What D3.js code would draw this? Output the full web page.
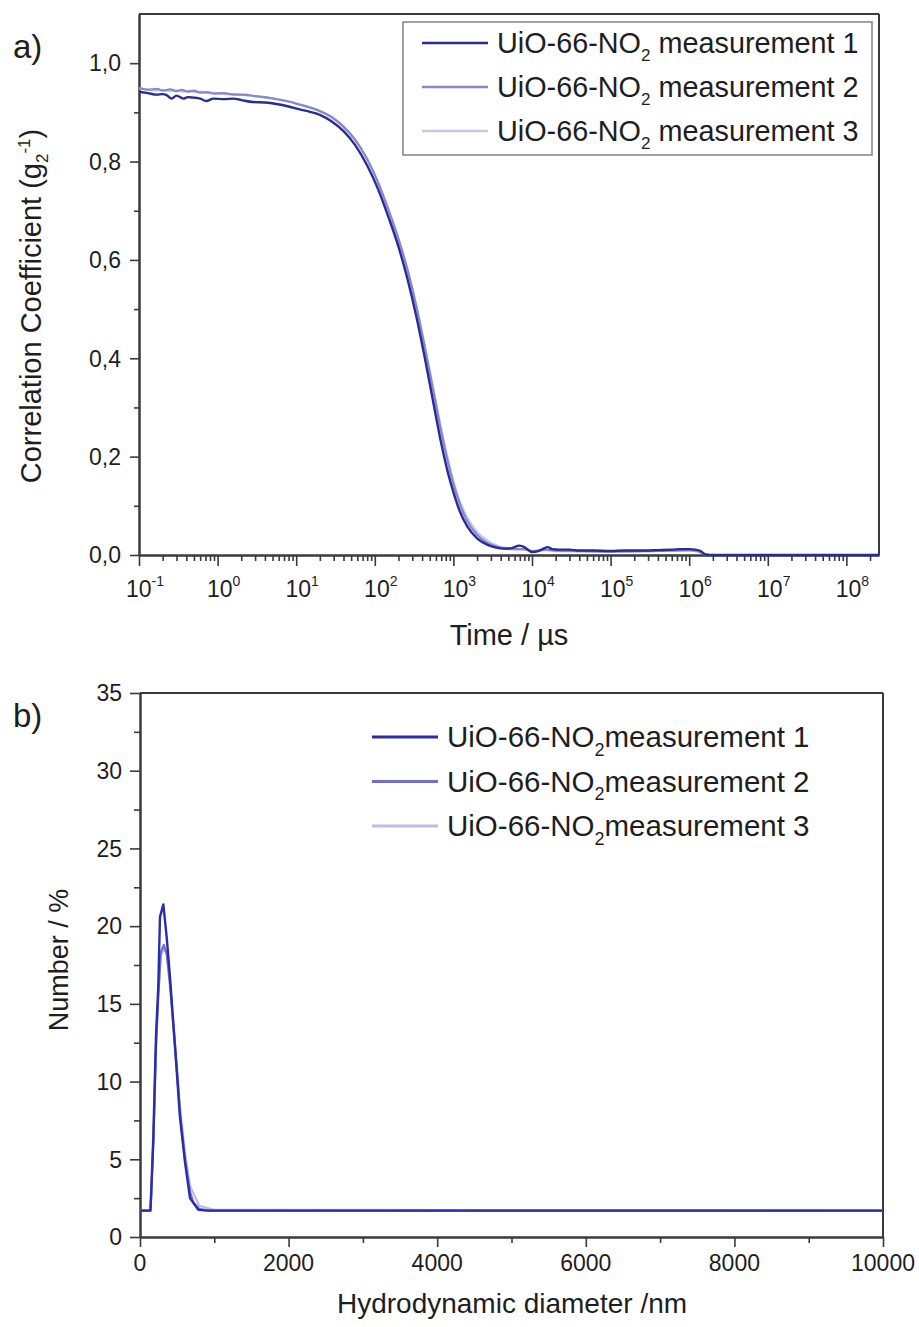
<!DOCTYPE html>
<html>
<head>
<meta charset="utf-8">
<script src="https://cdn.jsdelivr.net/npm/d3@7"></script>
<style>
  html, body { margin: 0; padding: 0; background: #fff; }
  svg { display: block; font-family: "Liberation Sans", Arial, sans-serif; }
</style>
</head>
<body>
<svg id="fig" width="919" height="1327"></svg>
<script>
// ---------- a) correlation function, [time / µs, g2-1] ----------
const corrMeas1 = [
  [0.1,0.942],[0.13,0.939],[0.168,0.936],[0.2,0.937],[0.225,0.935],[0.26,0.928],[0.3,0.934],
  [0.366,0.928],[0.42,0.931],[0.49,0.930],[0.6,0.928],[0.72,0.923],[0.88,0.928],[1.2,0.927],
  [1.58,0.928],[2.0,0.925],[2.83,0.921],[4,0.920],[5.6,0.917],[8,0.912],[11.1,0.906],[15,0.901],
  [20,0.895],[28,0.882],[40,0.862],[56,0.834],[80,0.792],[110,0.744],[150,0.686],[200,0.627],
  [260,0.562],[340,0.483],[440,0.395],[560,0.307],[700,0.227],[850,0.168],[1000,0.128],
  [1200,0.090],[1500,0.058],[2000,0.034],[2600,0.022],[3500,0.015],[4500,0.013],[5500,0.014],
  [6900,0.019],[8000,0.016],[9000,0.010],[10000,0.006],[12000,0.008],[14000,0.013],[15800,0.016],
  [18000,0.012],[22000,0.011],[30000,0.011],[40000,0.009],[60000,0.009],[1e5,0.008],[1.5e5,0.009],
  [2.5e5,0.009],[4e5,0.010],[6e5,0.011],[8e5,0.012],[1.0e6,0.012],[1.2e6,0.011],[1.4e6,0.008],
  [1.6e6,0.001],[1.8e6,0],[2.6e8,0]
];
const corrMeas2 = [
  [0.1,0.950],[0.13,0.946],[0.17,0.948],[0.2,0.944],[0.25,0.947],[0.3,0.943],[0.35,0.946],
  [0.42,0.942],[0.5,0.944],[0.6,0.940],[0.75,0.941],[0.9,0.938],[1.2,0.939],[1.6,0.936],
  [2.2,0.936],[3,0.933],[4,0.931],[5.6,0.927],[8,0.922],[11,0.916],[15,0.910],
  [20,0.903],[28,0.891],[40,0.871],[56,0.845],[80,0.805],[110,0.758],[150,0.701],[200,0.643],
  [260,0.581],[340,0.504],[440,0.417],[560,0.331],[700,0.251],[850,0.189],[1000,0.145],
  [1200,0.105],[1500,0.069],[2000,0.041],[2600,0.026],[3500,0.017],[4500,0.013],[6000,0.012],
  [8000,0.012],[10000,0.008],[15000,0.011],[20000,0.009],[50000,0.008],[1e5,0.007],[3e5,0.008],
  [6e5,0.009],[1e6,0.010],[1.3e6,0.008],[1.6e6,0.001],[1.8e6,0],[2.6e8,0]
];
const corrMeas3 = [
  [0.1,0.948],[0.13,0.947],[0.16,0.944],[0.2,0.946],[0.24,0.943],[0.3,0.945],[0.36,0.942],
  [0.44,0.944],[0.52,0.941],[0.62,0.942],[0.75,0.939],[0.9,0.940],[1.2,0.937],[1.6,0.937],
  [2.2,0.935],[3,0.933],[4,0.930],[5.6,0.927],[8,0.922],[11,0.916],[15,0.910],
  [20,0.902],[28,0.890],[40,0.870],[56,0.844],[80,0.804],[110,0.757],[150,0.700],[200,0.642],
  [260,0.581],[340,0.505],[440,0.419],[560,0.335],[700,0.257],[850,0.196],[1000,0.151],
  [1200,0.111],[1500,0.076],[2000,0.047],[2600,0.031],[3500,0.020],[4500,0.015],[6000,0.012],
  [8000,0.011],[10000,0.007],[15000,0.010],[20000,0.008],[50000,0.007],[1e5,0.007],[3e5,0.008],
  [6e5,0.009],[1e6,0.009],[1.3e6,0.007],[1.6e6,0.001],[1.8e6,0],[2.6e8,0]
];

// ---------- b) number distribution, [diameter / nm, number %] ----------
const sizeMeas1 = [
  [0,1.7],[140,1.7],[150,2.8],[180,6.5],[215,12.9],[246,16.1],[269,20.6],[314,21.4],[359,19.3],
  [404,16.7],[494,10.7],[538,7.7],[606,4.8],[673,2.5],[785,1.75],[900,1.7],[10000,1.7]
];
const sizeMeas2 = [
  [0,1.7],[140,1.7],[150,2.6],[180,6.2],[215,12.3],[246,15.6],[280,18.3],[320,18.8],[360,18.2],
  [404,16.2],[494,10.9],[538,8.0],[606,5.0],[673,2.9],[720,2.2],[800,1.8],[950,1.7],[10000,1.7]
];
const sizeMeas3 = [
  [0,1.7],[140,1.7],[150,2.5],[180,6.0],[215,12.0],[246,15.4],[280,18.1],[325,18.6],[365,18.1],
  [404,16.4],[494,11.2],[538,8.4],[606,5.4],[673,3.3],[720,2.8],[800,2.0],[1000,1.75],[10000,1.7]
];

// ---------- labels ----------
const seriesNames = ["UiO-66-NO|2| measurement 1", "UiO-66-NO|2| measurement 2", "UiO-66-NO|2| measurement 3"];
const corrTicks = [0, 0.2, 0.4, 0.6, 0.8, 1.0];
const corrTickLabels = ["0,0", "0,2", "0,4", "0,6", "0,8", "1,0"];
const timeExponents = [-1, 0, 1, 2, 3, 4, 5, 6, 7, 8];
const numberTicks = [0, 5, 10, 15, 20, 25, 30, 35];
const diameterTicks = [0, 2000, 4000, 6000, 8000, 10000];

const topColors = ["#2b2b95", "#8787ca", "#c6c6e9"];
const botColors = ["#2c2cab", "#6e6ed6", "#bcbce6"];

const svg = d3.select("#fig");
const ink = "#1e1e1e";
const axisInk = "#3a3a3a";

function styleAxis(g) {
  g.selectAll("path.domain").attr("stroke", axisInk).attr("stroke-width", 2);
  g.selectAll(".tick line").attr("stroke", axisInk).attr("stroke-width", 1.6);
  g.selectAll(".tick text").remove();
}

// series name with the "2" of NO2 set as a subscript
function seriesLabel(sel, str, fs, gapText) {
  const parts = str.split("|");
  sel.append("tspan").text(parts[0]);
  sel.append("tspan").attr("font-size", Math.round(fs * 0.6)).attr("dy", fs * 0.29).text(parts[1]);
  sel.append("tspan").attr("dy", -fs * 0.29).text(gapText + parts[2].trim());
}

// ================= panel a =================
(function () {
  const L = 139, R = 879, T = 14, B = 555;
  const x = d3.scaleLog().domain([0.1, 2.6e8]).range([L, R]);
  const y = d3.scaleLinear().domain([0, 1.1]).range([B, T]);
  const g = svg.append("g");

  // frame top / right
  g.append("line").attr("x1", L).attr("x2", R).attr("y1", T).attr("y2", T).attr("stroke", axisInk).attr("stroke-width", 2);
  g.append("line").attr("x1", R).attr("x2", R).attr("y1", T).attr("y2", B).attr("stroke", axisInk).attr("stroke-width", 2);

  // y axis
  const yMinor = d3.range(0.1, 1.05, 0.2);
  g.append("g").attr("transform", `translate(${L},0)`)
    .call(d3.axisLeft(y).tickValues(yMinor).tickSize(5).tickSizeOuter(0)).call(styleAxis);
  g.append("g").attr("transform", `translate(${L},0)`)
    .call(d3.axisLeft(y).tickValues(corrTicks).tickSize(9).tickSizeOuter(0)).call(styleAxis);
  g.selectAll(null).data(corrTicks).enter().append("text")
    .attr("x", L - 18).attr("y", d => y(d)).attr("dy", "0.36em")
    .attr("text-anchor", "end").attr("font-size", 23).attr("fill", ink)
    .text((d, i) => corrTickLabels[i]);

  // x axis (log)
  const majors = timeExponents.map(e => Math.pow(10, e));
  const minors = [];
  timeExponents.forEach(e => { for (let k = 2; k <= 9; k++) { const v = k * Math.pow(10, e); if (v <= 2.6e8) minors.push(v); } });
  g.append("g").attr("transform", `translate(0,${B})`)
    .call(d3.axisBottom(x).tickValues(minors).tickSize(6).tickSizeOuter(0)).call(styleAxis);
  g.append("g").attr("transform", `translate(0,${B})`)
    .call(d3.axisBottom(x).tickValues(majors).tickSize(11).tickSizeOuter(0)).call(styleAxis);
  timeExponents.forEach(e => {
    const t = g.append("text").attr("x", x(Math.pow(10, e)) + 6).attr("y", B + 42)
      .attr("text-anchor", "middle").attr("font-size", 23).attr("fill", ink);
    t.append("tspan").text("10");
    t.append("tspan").attr("font-size", 14).attr("dy", -11).text(String(e));
  });

  // curves
  const line = d3.line().x(d => x(d[0])).y(d => y(d[1])).curve(d3.curveMonotoneX);
  [corrMeas3, corrMeas2, corrMeas1].forEach((s, i) => {
    g.append("path").attr("d", line(s)).attr("fill", "none")
      .attr("stroke", topColors[2 - i]).attr("stroke-width", i === 2 ? 2.4 : 2.2)
      .attr("stroke-linejoin", "round");
  });

  // legend
  g.append("rect").attr("x", 403).attr("y", 22).attr("width", 469).attr("height", 133)
    .attr("fill", "#fff").attr("stroke", "#8a8a8a").attr("stroke-width", 1.6);
  seriesNames.forEach((name, i) => {
    const ly = 43 + i * 44;
    g.append("line").attr("x1", 422).attr("x2", 488).attr("y1", ly).attr("y2", ly)
      .attr("stroke", topColors[i]).attr("stroke-width", 2.4);
    const t = g.append("text").attr("x", 497).attr("y", ly + 10).attr("font-size", 28.8).attr("fill", ink);
    seriesLabel(t, name, 28.8, " ");
  });

  // axis titles
  const yt = g.append("text").attr("transform", `translate(41,${306}) rotate(-90)`)
    .attr("text-anchor", "middle").attr("font-size", 29).attr("fill", ink);
  yt.append("tspan").text("Correlation Coefficient (g");
  yt.append("tspan").attr("font-size", 17).attr("dy", 7).text("2");
  yt.append("tspan").attr("font-size", 17).attr("dy", -18).text("-1");
  yt.append("tspan").attr("dy", 11).text(")");

  g.append("text").attr("x", 509).attr("y", 645).attr("text-anchor", "middle")
    .attr("font-size", 29).attr("fill", ink).text("Time / \u00b5s");

  g.append("text").attr("x", 13).attr("y", 58).attr("font-size", 33).attr("fill", ink).text("a)");
})();

// ================= panel b =================
(function () {
  const L = 140, R = 883, T = 693, B = 1237;
  const x = d3.scaleLinear().domain([0, 10000]).range([L, R]);
  const y = d3.scaleLinear().domain([0, 35]).range([B, T]);
  const g = svg.append("g");

  g.append("line").attr("x1", L).attr("x2", R).attr("y1", T).attr("y2", T).attr("stroke", axisInk).attr("stroke-width", 2);
  g.append("line").attr("x1", R).attr("x2", R).attr("y1", T).attr("y2", B).attr("stroke", axisInk).attr("stroke-width", 2);

  const yMinor = d3.range(2.5, 35, 5);
  g.append("g").attr("transform", `translate(${L},0)`)
    .call(d3.axisLeft(y).tickValues(yMinor).tickSize(6).tickSizeOuter(0)).call(styleAxis);
  g.append("g").attr("transform", `translate(${L},0)`)
    .call(d3.axisLeft(y).tickValues(numberTicks).tickSize(10).tickSizeOuter(0)).call(styleAxis);
  g.selectAll(null).data(numberTicks).enter().append("text")
    .attr("x", L - 18).attr("y", d => y(d)).attr("dy", "0.36em")
    .attr("text-anchor", "end").attr("font-size", 23).attr("fill", ink).text(d => d);

  const xMinor = d3.range(1000, 10000, 2000);
  g.append("g").attr("transform", `translate(0,${B})`)
    .call(d3.axisBottom(x).tickValues(xMinor).tickSize(6).tickSizeOuter(0)).call(styleAxis);
  g.append("g").attr("transform", `translate(0,${B})`)
    .call(d3.axisBottom(x).tickValues(diameterTicks).tickSize(10).tickSizeOuter(0)).call(styleAxis);
  g.selectAll(null).data(diameterTicks).enter().append("text")
    .attr("x", d => x(d)).attr("y", B + 34).attr("text-anchor", "middle")
    .attr("font-size", 23).attr("fill", ink).text(d => d);

  const line = d3.line().x(d => x(d[0])).y(d => y(d[1]));
  [sizeMeas3, sizeMeas2, sizeMeas1].forEach((s, i) => {
    g.append("path").attr("d", line(s)).attr("fill", "none")
      .attr("stroke", botColors[2 - i]).attr("stroke-width", i === 2 ? 2.4 : 2.2)
      .attr("stroke-linejoin", "round");
  });

  seriesNames.forEach((name, i) => {
    const ly = 737 + i * 44.5;
    g.append("line").attr("x1", 372).attr("x2", 438).attr("y1", ly).attr("y2", ly)
      .attr("stroke", botColors[i]).attr("stroke-width", 2.8);
    const t = g.append("text").attr("x", 447).attr("y", ly + 10).attr("font-size", 29.5).attr("fill", ink);
    seriesLabel(t, name, 29.5, "");
  });

  g.append("text").attr("transform", `translate(68,${960}) rotate(-90)`)
    .attr("text-anchor", "middle").attr("font-size", 27).attr("fill", ink).text("Number /  %");

  g.append("text").attr("x", 512).attr("y", 1313).attr("text-anchor", "middle")
    .attr("font-size", 28).attr("fill", ink).text("Hydrodynamic diameter /nm");

  g.append("text").attr("x", 13).attr("y", 727).attr("font-size", 33).attr("fill", ink).text("b)");
})();
</script>
</body>
</html>
